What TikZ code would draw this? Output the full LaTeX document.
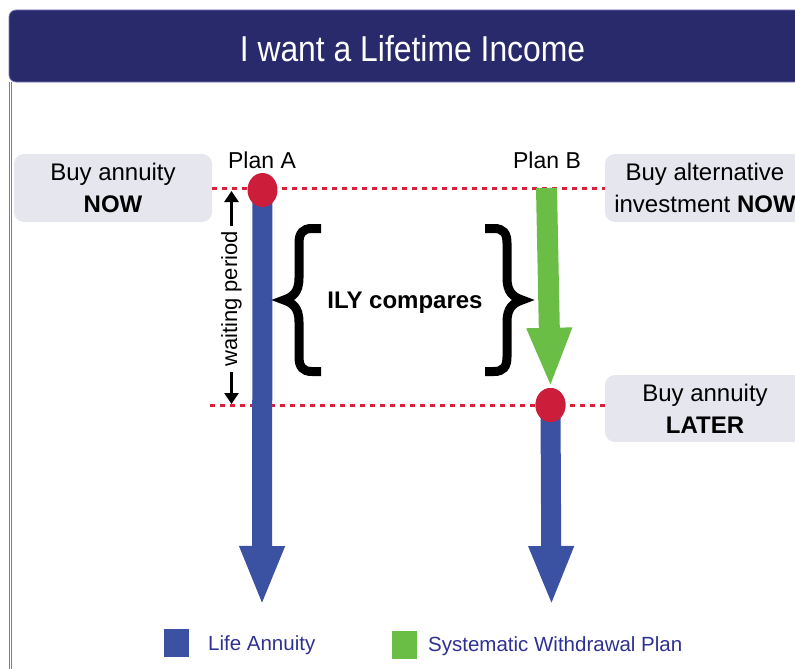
\documentclass[tikz,border=0pt]{standalone}
\usepackage{fontspec}
\setmainfont{Liberation Sans}
\usetikzlibrary{arrows.meta,shapes.geometric}
\definecolor{navy}{RGB}{41,42,107}
\definecolor{boxgray}{RGB}{230,230,239}
\definecolor{dashred}{RGB}{218,32,58}
\definecolor{dotred}{RGB}{204,30,58}
\definecolor{lifeblue}{RGB}{59,82,163}
\definecolor{swpgreen}{RGB}{107,190,69}
\definecolor{legtext}{RGB}{46,49,146}
\definecolor{frame}{RGB}{120,120,190}
\tikzset{
  infobox/.style={rectangle, rounded corners=10pt, fill=boxgray, inner sep=0pt,
    align=center, font=\fontsize{24}{32}\selectfont},
  planlabel/.style={anchor=base, inner sep=0pt, font=\fontsize{23}{26}\selectfont},
  levelline/.style={dashred, line width=3pt, dash pattern=on 5pt off 5pt},
  dot/.style={ellipse, fill=dotred, minimum width=30pt, minimum height=34pt, inner sep=0pt},
  lifearrow/.style={lifeblue, line width=20pt, -{Triangle[width=41pt,length=60pt]}},
  swparrow/.style={swpgreen, line width=21pt, -{Triangle[width=41pt,length=60pt]}},
  bracestroke/.style={line width=9pt, line join=miter, miter limit=20},
  waitarrow/.style={line width=3pt, -{Triangle[width=14pt,length=11pt]}},
  legsq/.style={rectangle, inner sep=0pt, minimum width=25pt, minimum height=28pt},
  legtxt/.style={anchor=base west, inner sep=0pt, text=legtext, font=\fontsize{20.5}{24}\selectfont}
}
\begin{document}
\begin{tikzpicture}[x=1pt,y=-1pt]
\useasboundingbox (0,0) rectangle (795,669);

% frame
\node[rectangle, rounded corners=7pt, fill=navy, draw=frame, line width=0.8pt,
      minimum width=801pt, minimum height=72pt, inner sep=0pt] (bar) at (409.5,46) {};
\node[anchor=base, inner sep=0pt, text=white, font=\fontsize{36}{40}\selectfont]
      (title) at (412.5,62) {\scalebox{0.885}[1]{I want a Lifetime Income}};
\draw[frame, double=white, double distance=0.8pt, line width=1pt] (10.5,82) -- (10.5,669);

% boxes
\node[infobox, minimum width=198pt, minimum height=68pt] (nowA) at (113,188)
      {Buy annuity\\\textbf{NOW}};
\node[infobox, minimum width=200pt, minimum height=68pt] (nowB) at (705,188)
      {Buy alternative\\investment \textbf{NOW}};
\node[infobox, minimum width=200pt, minimum height=67pt] (later) at (705,408.5)
      {Buy annuity\\\textbf{LATER}};

% plan labels
\node[planlabel] (planA) at (262,168) {Plan A};
\node[planlabel] (planB) at (547,168) {Plan B};

% key points
\coordinate (dA) at (262.5,190);
\coordinate (dB) at (550.5,405);
\coordinate (lateL) at (210,405);
\coordinate (greenTop) at (546.5,188);
\coordinate (tipA) at (262,606);
\coordinate (tipB) at (551.5,606);

% level lines
\draw[levelline] (nowA.east) -- (nowB.west);
\draw[levelline] (lateL) -- (later.west |- dB);

% arrows
\draw[lifearrow] (dA) -- (tipA);
\draw[lifearrow] (dB) -- (tipB);
\node[dot] (circB) at (dB) {};
\draw[swparrow] (greenTop) -- (circB.north);
\node[dot] (circA) at (dA) {};
\node[dot] at (dB) {};

% waiting period
\node[rotate=90, inner xsep=5pt, inner ysep=0pt, font=\fontsize{22}{24}\selectfont]
      (wait) at (231.5,299) {waiting period};
\coordinate (wTop) at (231.5,191);
\coordinate (wBot) at (231.5,404);
\draw[waitarrow] (wait.east) -- (wTop);
\draw[waitarrow] (wait.west) -- (wBot);

% braces and comparison
\draw[bracestroke] (321,228.5) -- (312,228.5) .. controls (303,228.5) and (299,233) .. (299,243)
  -- (299,278) .. controls (299,292) and (293,297) .. (284,300)
  .. controls (293,303) and (299,308) .. (299,322) -- (299,357)
  .. controls (299,367) and (303,371.5) .. (312,371.5) -- (321,371.5);
\draw[bracestroke] (485,228.5) -- (494,228.5) .. controls (503,228.5) and (507,233) .. (507,243)
  -- (507,278) .. controls (507,292) and (513,297) .. (522,300)
  .. controls (513,303) and (507,308) .. (507,322) -- (507,357)
  .. controls (507,367) and (503,371.5) .. (494,371.5) -- (485,371.5);
\node[anchor=base, inner sep=0pt, font=\bfseries\fontsize{24}{28}\selectfont]
      (ily) at (405,308) {ILY compares};

% legend
\node[legsq, fill=lifeblue] (legA) at (176.5,643) {};
\node[legtxt] (legAt) at (208,650) {Life Annuity};
\node[legsq, fill=swpgreen] (legB) at (404.5,644.5) {};
\node[legtxt] (legBt) at (428,651) {Systematic Withdrawal Plan};
\end{tikzpicture}
\end{document}
